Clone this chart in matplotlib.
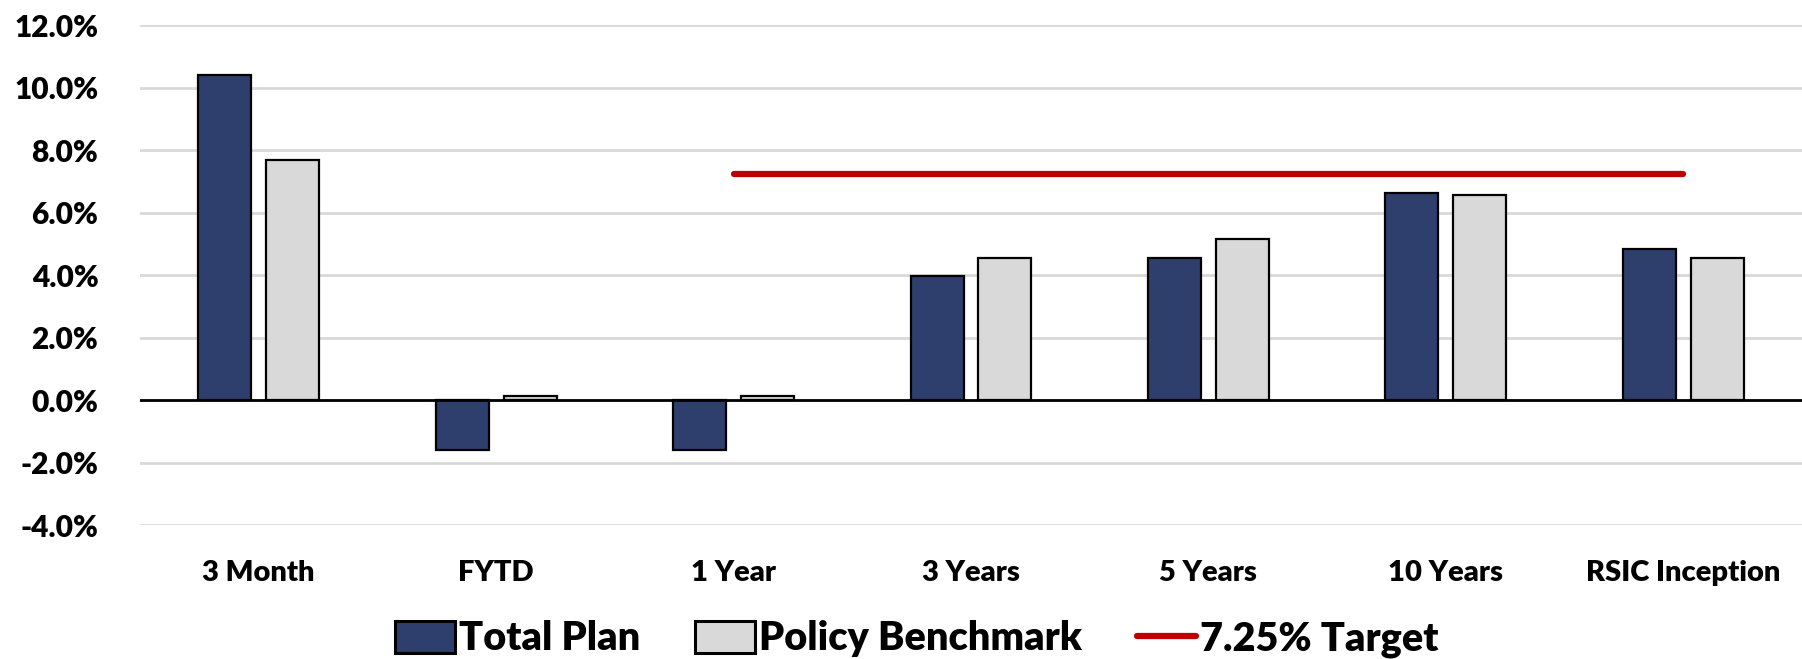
import matplotlib.pyplot as plt
import numpy as np

categories = ["3 Month", "FYTD", "1 Year", "3 Years", "5 Years", "10 Years", "RSIC Inception"]
total_plan = [10.4, -1.58, -1.58, 3.97, 4.56, 6.63, 4.83]
policy_benchmark = [7.68, 0.14, 0.14, 4.56, 5.15, 6.56, 4.54]
target = [np.nan, np.nan, 7.25, 7.25, 7.25, 7.25, 7.25]
y_ticks = [-4, -2, 0, 2, 4, 6, 8, 10, 12]

plt.rcParams['font.family'] = ['Lato', 'DejaVu Sans']
plt.rcParams['font.weight'] = 'heavy'

fig = plt.figure(figsize=(18.02, 6.59), dpi=100)
ax = fig.add_axes([0.0777, 0.203, 0.9223, 0.759])

x = np.arange(len(categories))
w = 0.223
off = 0.143
b1 = ax.bar(x - off, total_plan, w, color="#2E3F6E", edgecolor="black", linewidth=1.6, label="Total Plan", zorder=3)
b2 = ax.bar(x + off, policy_benchmark, w, color="#D9D9D9", edgecolor="black", linewidth=1.6, label="Policy Benchmark", zorder=3)
ln, = ax.plot(x, target, color="#C00000", linewidth=4.5, solid_capstyle="round", label="7.25% Target", zorder=4)

ax.set_xlim(-0.5, len(categories) - 0.5)
ax.set_ylim(-4, 12)
ax.set_yticks(y_ticks)
ax.set_yticklabels([f"{v:.1f}%" for v in y_ticks], fontsize=21.5, fontweight="heavy")
ax.set_xticks(x)
ax.set_xticklabels(categories, fontsize=21, fontweight="heavy")
ax.tick_params(axis="both", length=0)
ax.tick_params(axis="y", pad=30)
ax.tick_params(axis="x", pad=25)

ax.grid(axis="y", color="#D9D9D9", linewidth=2, zorder=0)
ax.axhline(0, color="black", linewidth=2, zorder=3)
for s in ax.spines.values():
    s.set_visible(False)

leg = fig.legend([b1, b2, ln], ["Total Plan", "Policy Benchmark", "7.25% Target"],
                 loc="center", bbox_to_anchor=(0.509, 0.03), ncol=3, frameon=False,
                 prop={"family": ["Lato"], "weight": "heavy", "size": 28.5},
                 handlelength=1.5, handleheight=0.85, handletextpad=0.1, columnspacing=1.4)
for p in leg.get_patches():
    p.set_linewidth(2.2)

fig.savefig("out.png", dpi=100)
